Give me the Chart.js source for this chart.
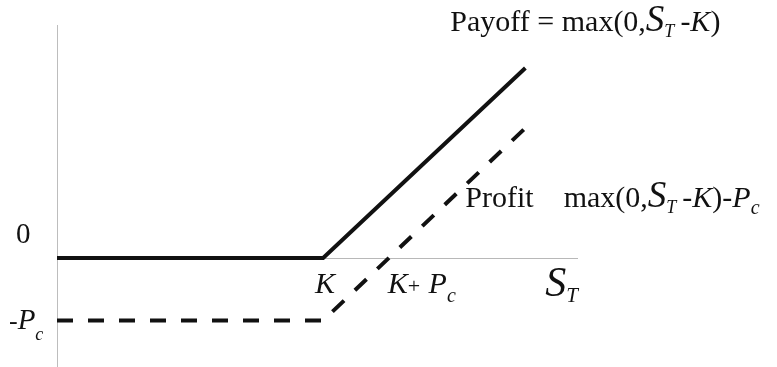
<!DOCTYPE html>
<html>
<head>
<meta charset="utf-8">
<script src="https://cdn.jsdelivr.net/npm/chart.js@4/dist/chart.umd.min.js"></script>
<style>
  html, body { margin: 0; padding: 0; background: #fff; overflow: hidden; }
  #wrap { width: 777px; height: 367px; position: relative; }
</style>
</head>
<body>
<div id="wrap"><canvas id="optChart" width="777" height="367"></canvas></div>
<script>
// stock price at expiry (x) and the two curves
const strike = 5;
const premium = 1.25;
const stockPrice = [0, 5, 8.8];
const payoff = [0, 0, 3.8];
const profit = [-1.25, -1.25, 2.6];

const SERIF = "'Liberation Serif', 'Times New Roman', serif";
const INK = "#111";

function pts(xs, ys) {
    return xs.map((x, i) => ({ x: x, y: ys[i] }));
}

// draw a run of text pieces one after another (for sub/italic bits)
function richText(ctx, x, y, parts) {
    let cx = x;
    parts.forEach(p => {
        ctx.font = p.font;
        ctx.fillText(p.t, cx, y + (p.dy || 0));
        cx += ctx.measureText(p.t).width + (p.gap || 0);
    });
}

const reg = (s) => `${s}px ${SERIF}`;
const ita = (s) => `italic ${s}px ${SERIF}`;

const labelsPlugin = {
    id: "labels",
    afterDraw(c) {
        const ctx = c.ctx;
        const xs = c.scales.x, ys = c.scales.y;
        const x0 = xs.getPixelForValue(0);
        const yZero = ys.getPixelForValue(0);
        const yPrem = ys.getPixelForValue(-premium);
        const xK = xs.getPixelForValue(strike);
        const xKP = xs.getPixelForValue(strike + premium);
        const xEnd = xs.getPixelForValue(stockPrice[stockPrice.length - 1]);
        ctx.save();
        ctx.fillStyle = INK;
        ctx.textBaseline = "alphabetic";

        // y axis labels
        richText(ctx, x0 - 41, yZero - 15, [{ t: "0", font: reg(29) }]);
        richText(ctx, x0 - 48, yPrem + 8, [
            { t: "-", font: reg(26) },
            { t: "P", font: ita(29) },
            { t: "c", font: ita(18), dy: 11 }
        ]);

        // x axis labels
        richText(ctx, xK - 8, yZero + 35, [{ t: "K", font: ita(30) }]);
        richText(ctx, xKP - 2, yZero + 35, [
            { t: "K", font: ita(30) },
            { t: "+ ", font: reg(22), gap: 3 },
            { t: "P", font: ita(30) },
            { t: "c", font: ita(20), dy: 9 }
        ]);
        richText(ctx, xEnd + 20, yZero + 38, [
            { t: "S", font: ita(42) },
            { t: "T", font: ita(21), dy: 6 }
        ]);

        // curve labels
        richText(ctx, xEnd - 75, ys.getPixelForValue(4.55), [
            { t: "Payoff = max(0,", font: reg(30) },
            { t: "S", font: ita(37) },
            { t: "T", font: ita(18), dy: 6, gap: 6 },
            { t: "-", font: reg(30) },
            { t: "K", font: ita(30) },
            { t: ")", font: reg(30) }
        ]);
        richText(ctx, xEnd - 60, ys.getPixelForValue(1.02), [
            { t: "Profit", font: reg(30) },
            { t: "    max(0,", font: reg(30) },
            { t: "S", font: ita(37) },
            { t: "T", font: ita(18), dy: 6, gap: 6 },
            { t: "-", font: reg(30) },
            { t: "K", font: ita(30) },
            { t: ")-", font: reg(30) },
            { t: "P", font: ita(30) },
            { t: "c", font: ita(20), dy: 7 }
        ]);
        ctx.restore();
    }
};

const ctx = document.getElementById("optChart").getContext("2d");
const chart = new Chart(ctx, {
    type: "scatter",
    data: {
        datasets: [
            {
                label: "Payoff",
                data: pts(stockPrice, payoff),
                showLine: true,
                borderColor: INK,
                borderWidth: 4,
                pointRadius: 0,
                fill: false
            },
            {
                label: "Profit",
                data: pts(stockPrice, profit),
                showLine: true,
                borderColor: INK,
                borderWidth: 4,
                borderDash: [16, 15],
                pointRadius: 0,
                fill: false
            }
        ]
    },
    options: {
        responsive: false,
        animation: false,
        events: [],
        layout: { padding: { left: 57, top: 25, right: 200, bottom: 0 } },
        plugins: { legend: { display: false }, tooltip: { enabled: false } },
        scales: {
            x: {
                type: "linear",
                position: { y: 0 },
                min: 0,
                max: 9.77,
                ticks: { display: false },
                grid: { display: false, drawTicks: false, tickLength: 0 },
                border: { display: true, color: "#b8b8b8", width: 1, dash: [3, 2] }
            },
            y: {
                type: "linear",
                position: "left",
                min: -2.18,
                max: 4.66,
                ticks: { display: false },
                grid: { display: false, drawTicks: false, tickLength: 0 },
                border: { display: true, color: "#bdbdbd", width: 1, dash: [2, 3] }
            }
        }
    },
    plugins: [labelsPlugin]
});
</script>
</body>
</html>
